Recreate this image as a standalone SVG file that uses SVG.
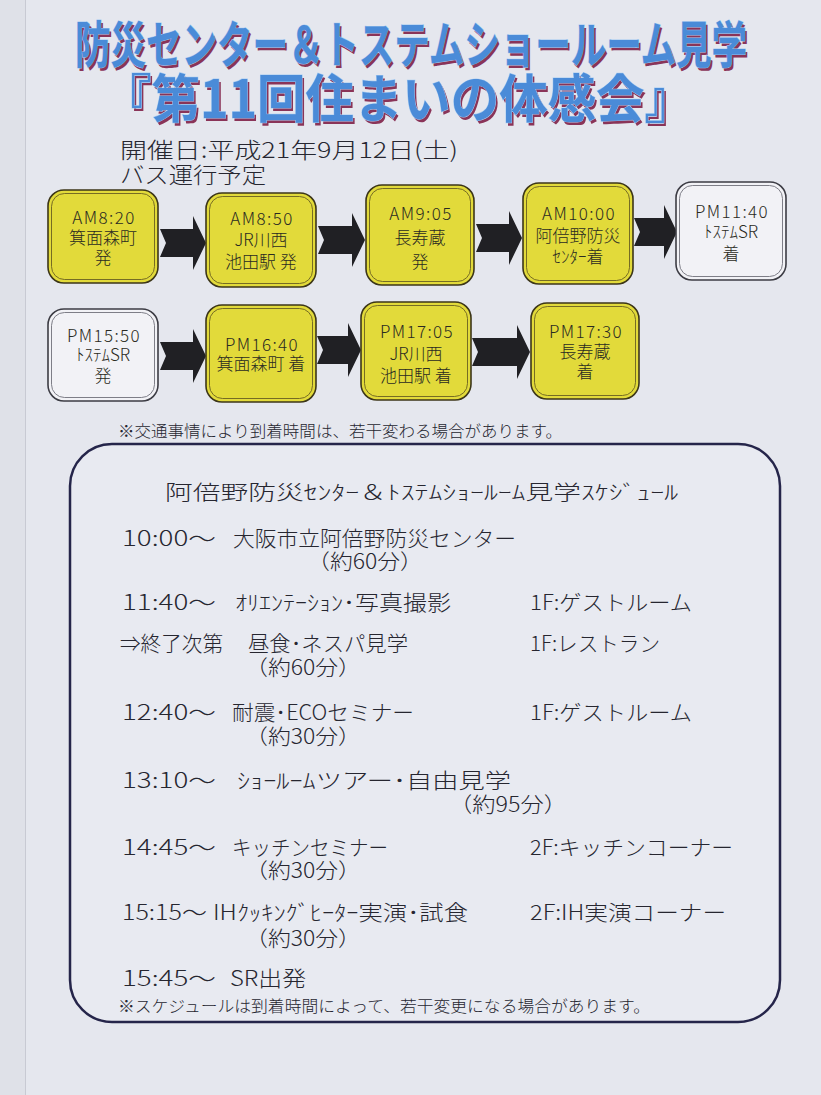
<svg xmlns="http://www.w3.org/2000/svg" width="821" height="1095" viewBox="0 0 821 1095">
<style>
.jp{font-family:"Noto Sans CJK JP","Liberation Sans",sans-serif;font-weight:300;fill:#262630}
.ttl{font-family:"Noto Sans CJK JP",sans-serif;font-weight:700}
.sh{fill:#8a3458}
.mn{fill:#4a8bd8;stroke:#a9cdf2;stroke-width:1;paint-order:stroke}
.bx{font-family:"Noto Sans CJK JP","Liberation Sans",sans-serif;font-weight:300;font-size:17px;fill:#2a2a22;text-anchor:middle}
.t{letter-spacing:1.4px}
.yb{fill:#e2da3a;stroke:#3c3618;stroke-width:1.6}
.wb{fill:#f2f2f6;stroke:#3c3c44;stroke-width:1.6}
.yi{fill:none;stroke:#6a6020;stroke-width:0.9}
.wi{fill:none;stroke:#70707a;stroke-width:0.9}
.ar{fill:#202024}
.s{font-size:21px}
.n{font-size:16px}
</style>
<rect x="0" y="0" width="821" height="1095" fill="#e5e7ee"/>
<rect x="0" y="0" width="25" height="1095" fill="#dfe1e8"/>
<line x1="25.5" y1="0" x2="25.5" y2="1095" stroke="#c8cad3" stroke-width="1"/>

<g id="title">
  <text class="ttl sh" x="77" y="66" font-size="50" textLength="672" lengthAdjust="spacingAndGlyphs">防災センター＆トステムショールーム見学</text>
  <text class="ttl mn" x="75" y="63" font-size="50" textLength="672" lengthAdjust="spacingAndGlyphs">防災センター＆トステムショールーム見学</text>
  <text class="ttl sh" x="105" y="121" font-size="52" textLength="590" lengthAdjust="spacingAndGlyphs">『第11回住まいの体感会』</text>
  <text class="ttl mn" x="103" y="118" font-size="52" textLength="590" lengthAdjust="spacingAndGlyphs">『第11回住まいの体感会』</text>
</g>

<g id="date">
  <text class="jp" x="120" y="158" font-size="22" textLength="338" lengthAdjust="spacingAndGlyphs">開催日:平成21年9月12日(土)</text>
  <text class="jp" x="120" y="183" font-size="22" textLength="146" lengthAdjust="spacingAndGlyphs">バス運行予定</text>
</g>

<g id="connectors">
  <path class="ar" d="M160,229 L193,229 L193,216 L206,243 L193,270 L193,257 L160,257 L166,243 Z"/>
  <path class="ar" d="M318,226 L352,226 L352,213 L365,240 L352,267 L352,254 L318,254 L324,240 Z"/>
  <path class="ar" d="M476,224 L509,224 L509,211 L522,238 L509,265 L509,252 L476,252 L482,238 Z"/>
  <path class="ar" d="M634,218 L664,218 L664,205 L677,232 L664,259 L664,246 L634,246 L640,232 Z"/>
  <path class="ar" d="M160,342 L193,342 L193,329 L206,356 L193,383 L193,370 L160,370 L166,356 Z"/>
  <path class="ar" d="M317,336 L348,336 L348,323 L361,350 L348,377 L348,364 L317,364 L323,350 Z"/>
  <path class="ar" d="M472,338 L517,338 L517,325 L530,352 L517,379 L517,366 L472,366 L478,352 Z"/>
</g>

<g id="b1">
  <rect class="yb" x="48" y="190" width="110" height="93" rx="16"/>
  <rect class="yi" x="51.5" y="193.5" width="103" height="86" rx="13"/>
  <text class="bx t" x="104" y="224">AM8:20</text>
  <text class="bx" x="103" y="244">箕面森町</text>
  <text class="bx" x="103" y="264">発</text>
</g>
<g id="b2">
  <rect class="yb" x="206" y="193" width="110" height="94" rx="16"/>
  <rect class="yi" x="209.5" y="196.5" width="103" height="87" rx="13"/>
  <text class="bx t" x="262" y="225">AM8:50</text>
  <text class="bx" x="261" y="246">JR川西</text>
  <text class="bx" x="261" y="268">池田駅 発</text>
</g>
<g id="b3">
  <rect class="yb" x="366" y="185" width="108" height="100" rx="16"/>
  <rect class="yi" x="369.5" y="188.5" width="101" height="93" rx="13"/>
  <text class="bx t" x="421" y="220">AM9:05</text>
  <text class="bx" x="420" y="244">長寿蔵</text>
  <text class="bx" x="420" y="268">発</text>
</g>
<g id="b4">
  <rect class="yb" x="523" y="183" width="110" height="101" rx="16"/>
  <rect class="yi" x="526.5" y="186.5" width="103" height="94" rx="13"/>
  <text class="bx t" x="579" y="220">AM10:00</text>
  <text class="bx" x="578" y="242">阿倍野防災</text>
  <text class="bx" x="578" y="263">ｾﾝﾀｰ着</text>
</g>
<g id="b5">
  <rect class="wb" x="676" y="182" width="110" height="98" rx="16"/>
  <rect class="wi" x="679.5" y="185.5" width="103" height="91" rx="13"/>
  <text class="bx t" x="732" y="218">PM11:40</text>
  <text class="bx" x="731" y="238">ﾄｽﾃﾑSR</text>
  <text class="bx" x="731" y="260">着</text>
</g>
<g id="b6">
  <rect class="wb" x="48" y="309" width="110" height="92" rx="16"/>
  <rect class="wi" x="51.5" y="312.5" width="103" height="85" rx="13"/>
  <text class="bx t" x="104" y="342">PM15:50</text>
  <text class="bx" x="103" y="361">ﾄｽﾃﾑSR</text>
  <text class="bx" x="103" y="382">発</text>
</g>
<g id="b7">
  <rect class="yb" x="206" y="305" width="110" height="97" rx="16"/>
  <rect class="yi" x="209.5" y="308.5" width="103" height="90" rx="13"/>
  <text class="bx t" x="262" y="351">PM16:40</text>
  <text class="bx" x="261" y="370">箕面森町 着</text>
</g>
<g id="b8">
  <rect class="yb" x="361" y="302" width="110" height="98" rx="16"/>
  <rect class="yi" x="364.5" y="305.5" width="103" height="91" rx="13"/>
  <text class="bx t" x="417" y="338">PM17:05</text>
  <text class="bx" x="416" y="360">JR川西</text>
  <text class="bx" x="416" y="382">池田駅 着</text>
</g>
<g id="b9">
  <rect class="yb" x="531" y="303" width="108" height="96" rx="16"/>
  <rect class="yi" x="534.5" y="306.5" width="101" height="89" rx="13"/>
  <text class="bx t" x="586" y="338">PM17:30</text>
  <text class="bx" x="585" y="358">長寿蔵</text>
  <text class="bx" x="585" y="378">着</text>
</g>

<g id="busnote">
  <text class="jp n" x="118" y="437" textLength="444" lengthAdjust="spacingAndGlyphs">※交通事情により到着時間は、若干変わる場合があります。</text>
</g>

<g id="schedule">
  <rect x="70" y="444" width="710" height="578" rx="42" fill="#e8eaf1" stroke="#25254a" stroke-width="2.5"/>
  <text class="jp" x="165" y="500" font-size="20" textLength="513" lengthAdjust="spacingAndGlyphs">阿倍野防災ｾﾝﾀｰ＆ﾄｽﾃﾑｼｮｰﾙｰﾑ見学ｽｹｼﾞｭｰﾙ</text>

  <text class="jp s" x="122" y="546" textLength="94" lengthAdjust="spacingAndGlyphs">10:00～</text>
  <text class="jp s" x="233" y="546" textLength="283" lengthAdjust="spacingAndGlyphs">大阪市立阿倍野防災センター</text>
  <text class="jp s" x="307" y="569" textLength="116" lengthAdjust="spacingAndGlyphs">（約60分）</text>

  <text class="jp s" x="122" y="610" textLength="94" lengthAdjust="spacingAndGlyphs">11:40～</text>
  <text class="jp s" x="235" y="610" textLength="216" lengthAdjust="spacingAndGlyphs">ｵﾘｴﾝﾃｰｼｮﾝ･写真撮影</text>
  <text class="jp s" x="530" y="610" textLength="162" lengthAdjust="spacingAndGlyphs">1F:ゲストルーム</text>

  <text class="jp s" x="120" y="651" textLength="103" lengthAdjust="spacingAndGlyphs">⇒終了次第</text>
  <text class="jp s" x="248" y="651" textLength="160" lengthAdjust="spacingAndGlyphs">昼食･ネスパ見学</text>
  <text class="jp s" x="530" y="651" textLength="130" lengthAdjust="spacingAndGlyphs">1F:レストラン</text>
  <text class="jp s" x="245" y="675" textLength="116" lengthAdjust="spacingAndGlyphs">（約60分）</text>

  <text class="jp s" x="122" y="720" textLength="94" lengthAdjust="spacingAndGlyphs">12:40～</text>
  <text class="jp s" x="232" y="720" textLength="182" lengthAdjust="spacingAndGlyphs">耐震･ECOセミナー</text>
  <text class="jp s" x="530" y="720" textLength="162" lengthAdjust="spacingAndGlyphs">1F:ゲストルーム</text>
  <text class="jp s" x="245" y="744" textLength="116" lengthAdjust="spacingAndGlyphs">（約30分）</text>

  <text class="jp s" x="122" y="788" textLength="94" lengthAdjust="spacingAndGlyphs">13:10～</text>
  <text class="jp s" x="237" y="788" textLength="274" lengthAdjust="spacingAndGlyphs">ｼｮｰﾙｰﾑツアー･自由見学</text>
  <text class="jp s" x="449" y="812" textLength="118" lengthAdjust="spacingAndGlyphs">（約95分）</text>

  <text class="jp s" x="122" y="855" textLength="94" lengthAdjust="spacingAndGlyphs">14:45～</text>
  <text class="jp s" x="232" y="855" textLength="156" lengthAdjust="spacingAndGlyphs">キッチンセミナー</text>
  <text class="jp s" x="530" y="855" textLength="203" lengthAdjust="spacingAndGlyphs">2F:キッチンコーナー</text>
  <text class="jp s" x="245" y="878" textLength="116" lengthAdjust="spacingAndGlyphs">（約30分）</text>

  <text class="jp s" x="122" y="920" textLength="85" lengthAdjust="spacingAndGlyphs">15:15～</text>
  <text class="jp s" x="213" y="920" textLength="255" lengthAdjust="spacingAndGlyphs">IHｸｯｷﾝｸﾞﾋｰﾀｰ実演･試食</text>
  <text class="jp s" x="530" y="920" textLength="196" lengthAdjust="spacingAndGlyphs">2F:IH実演コーナー</text>
  <text class="jp s" x="245" y="946" textLength="116" lengthAdjust="spacingAndGlyphs">（約30分）</text>

  <text class="jp s" x="122" y="986" textLength="94" lengthAdjust="spacingAndGlyphs">15:45～</text>
  <text class="jp s" x="230" y="986" textLength="76" lengthAdjust="spacingAndGlyphs">SR出発</text>

  <text class="jp n" x="118" y="1012" textLength="532" lengthAdjust="spacingAndGlyphs">※スケジュールは到着時間によって、若干変更になる場合があります。</text>
</g>
</svg>
